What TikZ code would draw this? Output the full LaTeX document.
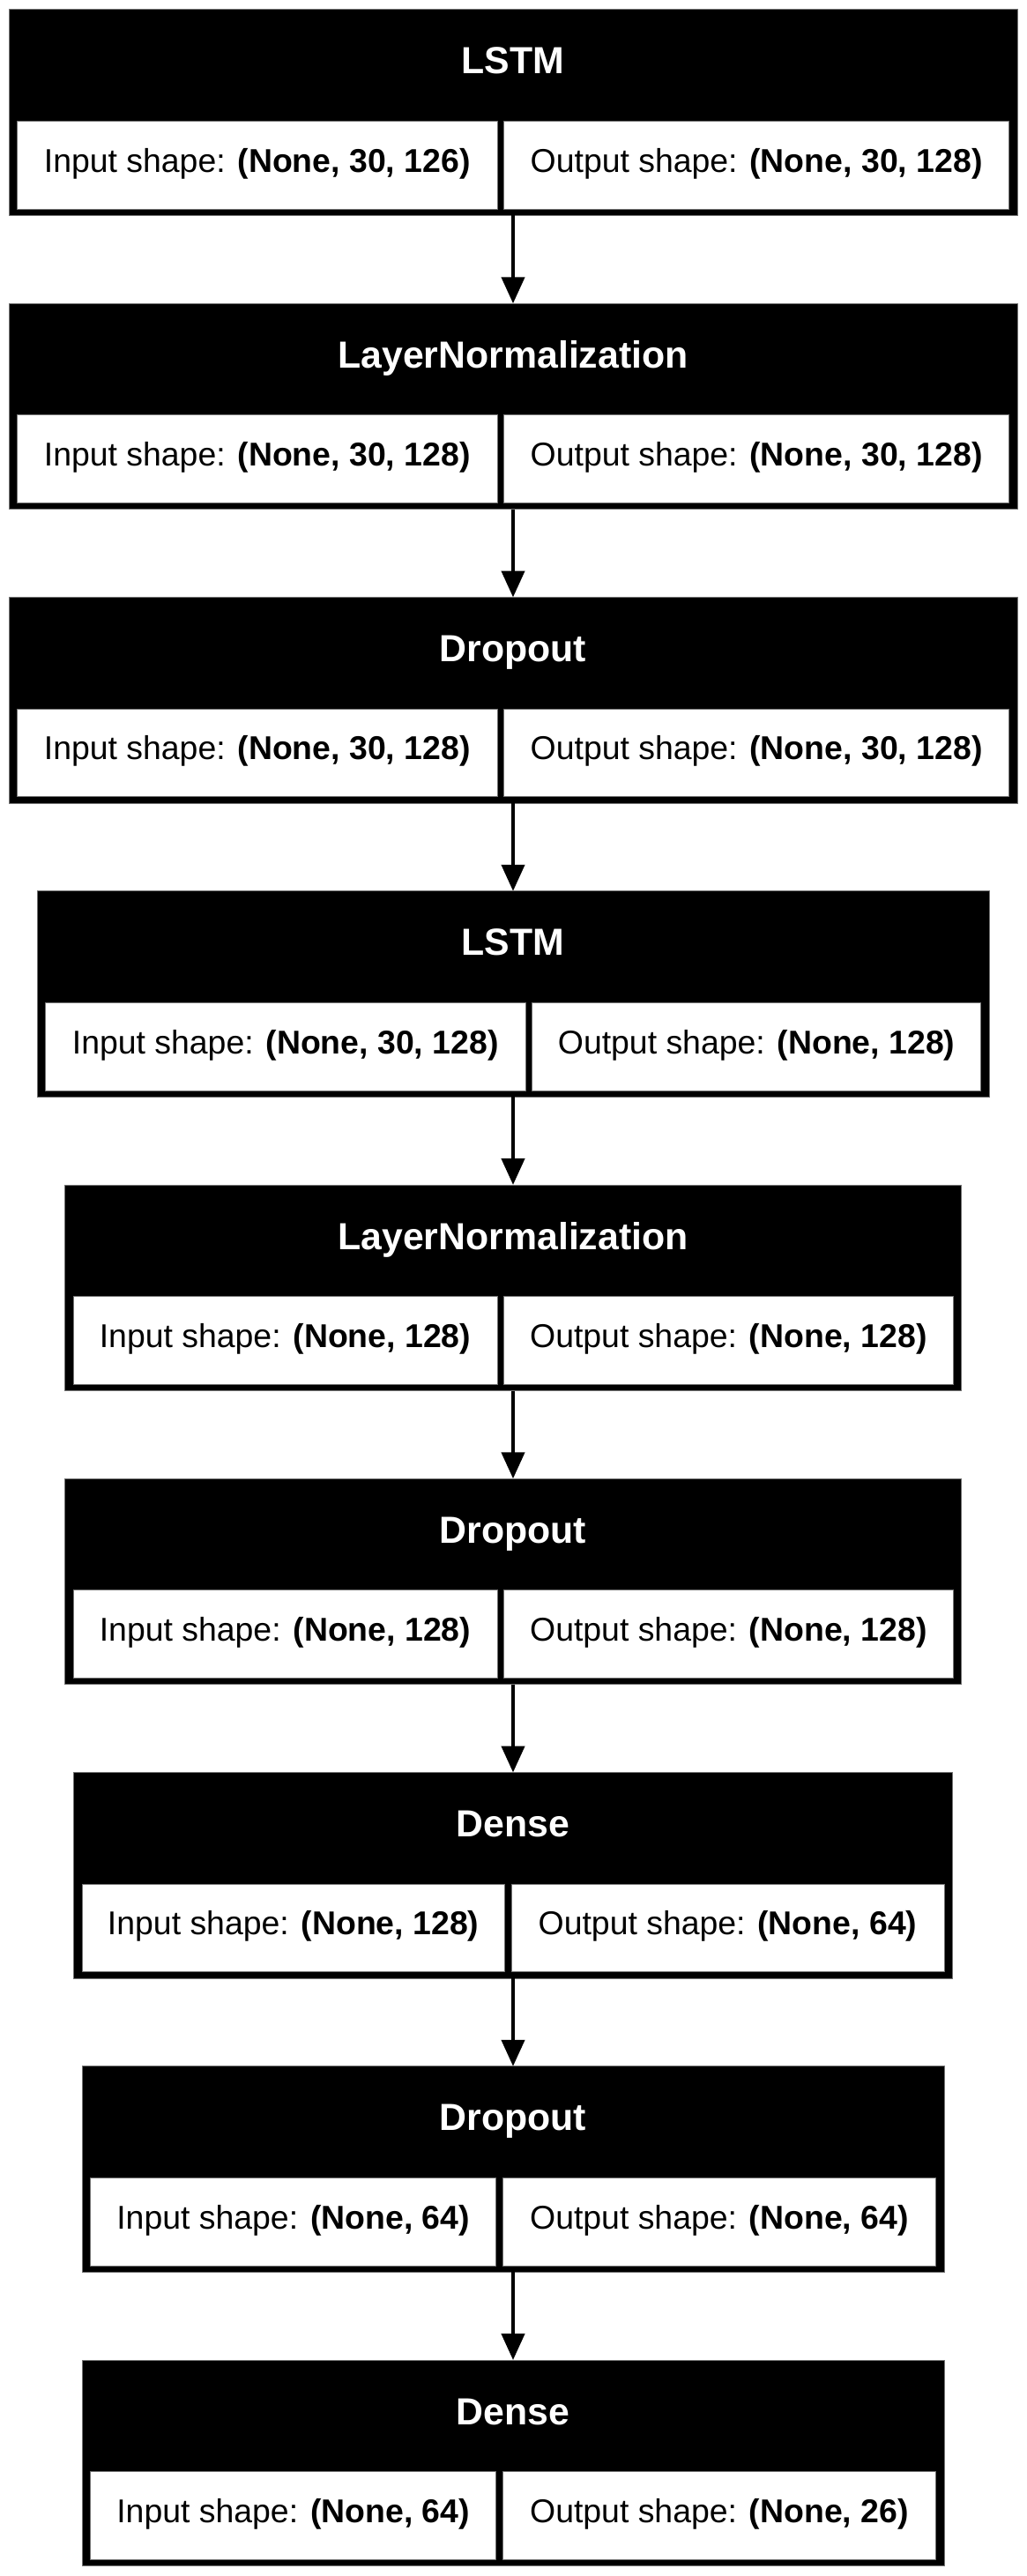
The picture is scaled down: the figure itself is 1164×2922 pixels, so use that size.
\documentclass[tikz,border=0pt]{standalone}
\usepackage{fontspec}
\setmainfont{Liberation Sans}
\usetikzlibrary{arrows.meta}
\tikzset{
  outerbox/.style={rectangle, fill=black, draw=black!55, line width=0.5pt, inner sep=0pt, outer sep=0pt},
  cellbox/.style={rectangle, fill=white, draw=black!55, line width=0.5pt, inner sep=0pt, outer sep=0pt},
  titletext/.style={text=white, font=\fontsize{21.4pt}{25pt}\selectfont\bfseries, inner sep=0pt, anchor=base},
  bodytext/.style={text=black, font=\fontsize{18.7pt}{22pt}\selectfont, inner sep=0pt, anchor=base},
  flow/.style={line width=2.2pt, -{Triangle[length=15pt,width=13pt]}},
}
% #1 name, #2 top (px), #3 half width (px), #4 right edge of left cell (px), #5 title, #6 input, #7 output
\newcommand{\lblock}[7]{%
  \pgfmathsetmacro\bkL{582-#3}%
  \pgfmathsetmacro\bkR{582+#3}%
  \pgfmathsetmacro\bkCL{\bkL+9.5}%
  \pgfmathsetmacro\bkCR{\bkR-9.5}%
  \pgfmathsetmacro\bkRL{#4+7.7}%
  \node[outerbox, minimum width={#3*1pt}, minimum height={233.5*0.5pt}] (#1) at (582,{#2+116.75}) {};
  \node[cellbox, minimum width={(#4-\bkCL)*0.5pt}, minimum height={99.8*0.5pt}] (#1L) at ({(\bkCL+#4)/2},{#2+176.4}) {};
  \node[cellbox, minimum width={(\bkCR-\bkRL)*0.5pt}, minimum height={99.8*0.5pt}] (#1R) at ({(\bkRL+\bkCR)/2},{#2+176.4}) {};
  \node[titletext] (#1t) at (582,{#2+73}) {#5};
  \node[bodytext] (#1i) at ({(\bkCL+#4)/2},{#2+184.3}) {Input shape: \textbf{#6}};
  \node[bodytext] (#1o) at ({(\bkRL+\bkCR)/2},{#2+184.3}) {Output shape: \textbf{#7}};
}
\begin{document}
\begin{tikzpicture}[x=0.5pt,y=-0.5pt]
  \useasboundingbox[fill=white] (0,0) rectangle (1164,2922);
  \lblock{b1}{11}{572}{564}{LSTM}{(None, 30, 126)}{(None, 30, 128)}
  \lblock{b2}{344.25}{572}{564}{LayerNormalization}{(None, 30, 128)}{(None, 30, 128)}
  \lblock{b3}{677.5}{572}{564}{Dropout}{(None, 30, 128)}{(None, 30, 128)}
  \lblock{b4}{1010.75}{540}{596}{LSTM}{(None, 30, 128)}{(None, 128)}
  \lblock{b5}{1344}{508.5}{564}{LayerNormalization}{(None, 128)}{(None, 128)}
  \lblock{b6}{1677.25}{508.5}{564}{Dropout}{(None, 128)}{(None, 128)}
  \lblock{b7}{2010.5}{498.5}{572.3}{Dense}{(None, 128)}{(None, 64)}
  \lblock{b8}{2343.75}{489}{562.7}{Dropout}{(None, 64)}{(None, 64)}
  \lblock{b9}{2677}{489}{562.7}{Dense}{(None, 64)}{(None, 26)}
  \draw[flow] (b1.south) -- (b2.north);
  \draw[flow] (b2.south) -- (b3.north);
  \draw[flow] (b3.south) -- (b4.north);
  \draw[flow] (b4.south) -- (b5.north);
  \draw[flow] (b5.south) -- (b6.north);
  \draw[flow] (b6.south) -- (b7.north);
  \draw[flow] (b7.south) -- (b8.north);
  \draw[flow] (b8.south) -- (b9.north);
\end{tikzpicture}
\end{document}
